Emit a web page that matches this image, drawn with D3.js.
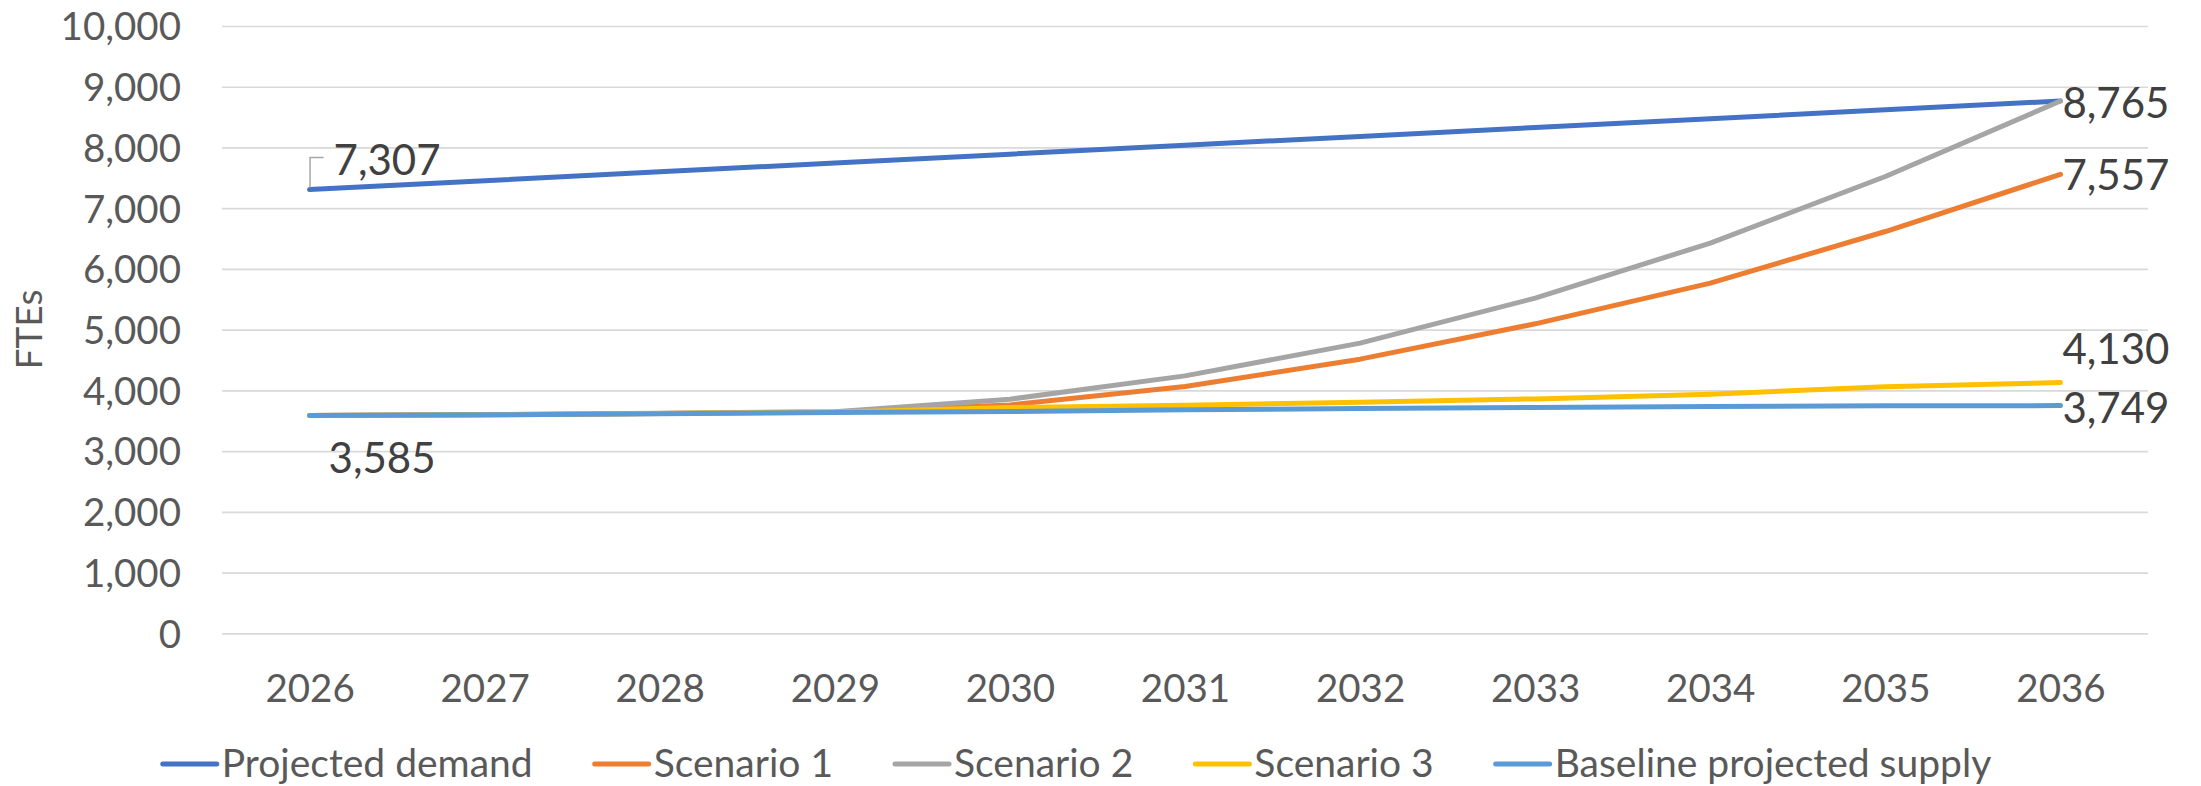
<!DOCTYPE html>
<html>
<head>
<meta charset="utf-8">
<script src="https://cdn.jsdelivr.net/npm/d3@7"></script>
<style>
  html, body { margin: 0; padding: 0; background: #ffffff; }
  svg { display: block; }
  text { font-family: "Lato", "Liberation Sans", sans-serif; }
</style>
</head>
<body>
<svg id="chart" width="2201" height="786"></svg>
<script>
// ---------- data ----------
const years = ["2026","2027","2028","2029","2030","2031","2032","2033","2034","2035","2036"];
const projectedDemand = [7307, 7453, 7599, 7744, 7890, 8036, 8182, 8328, 8473, 8619, 8765];
const scenario1 = [3585, 3598, 3620, 3645, 3761, 4063, 4514, 5096, 5766, 6616, 7557];
const scenario2 = [3585, 3600, 3622, 3650, 3855, 4239, 4778, 5519, 6425, 7522, 8765];
const scenario3 = [3585, 3597, 3618, 3640, 3717, 3756, 3805, 3860, 3937, 4060, 4130];
const baselineSupply = [3585, 3597, 3615, 3634, 3651, 3679, 3700, 3720, 3733, 3748, 3749];
const seriesNames = ["Projected demand", "Scenario 1", "Scenario 2", "Scenario 3", "Baseline projected supply"];
const yTicks = [0, 1000, 2000, 3000, 4000, 5000, 6000, 7000, 8000, 9000, 10000];
const yAxisTitle = "FTEs";

// ---------- styling / layout ----------
const colors = ["#4472C4", "#ED7D31", "#A5A5A5", "#FFC000", "#5B9BD5"];
const seriesValues = [projectedDemand, scenario1, scenario2, scenario3, baselineSupply];
const margin = { left: 222, right: 2201 - 2148, top: 26, bottom: 786 - 633.3 };
const W = 2201, H = 786;

const svg = d3.select("#chart");

const x = d3.scalePoint().domain(years).range([margin.left, W - margin.right]).padding(0.5);
const y = d3.scaleLinear().domain([0, 10000]).range([H - margin.bottom, margin.top]);
const fmt = d3.format(",");

// gridlines + y labels
const yAxis = d3.axisLeft(y)
  .tickValues(yTicks)
  .tickFormat(fmt)
  .tickSize(-(W - margin.left - margin.right))
  .tickPadding(41);
const gy = svg.append("g").attr("transform", `translate(${margin.left},0)`).call(yAxis);
gy.select(".domain").remove();
gy.selectAll(".tick line").attr("stroke", "#D9D9D9").attr("stroke-width", 1.7);
gy.selectAll(".tick text")
  .attr("fill", "#595959")
  .attr("font-size", 38.5)
  .attr("dy", "0.36em");

// x labels
const xAxis = d3.axisBottom(x).tickSize(0).tickPadding(0);
const gx = svg.append("g").attr("transform", `translate(0,${y(0)})`).call(xAxis);
gx.select(".domain").remove();
gx.selectAll(".tick text")
  .attr("fill", "#595959")
  .attr("font-size", 38.5)
  .attr("y", 69)
  .attr("dy", 0);

// y axis title
svg.append("text")
  .attr("transform", "translate(42,329.5) rotate(-90)")
  .attr("text-anchor", "middle")
  .attr("fill", "#595959")
  .attr("font-size", 37)
  .text(yAxisTitle);

// lines
const line = d3.line()
  .x((d, i) => x(years[i]))
  .y(d => y(d));
seriesValues.forEach((vals, k) => {
  svg.append("path")
    .datum(vals)
    .attr("d", line)
    .attr("fill", "none")
    .attr("stroke", colors[k])
    .attr("stroke-width", 5)
    .attr("stroke-linejoin", "round")
    .attr("stroke-linecap", "round");
});

// data labels (series index, point index, offsets)
const labelSpecs = [
  { s: 0, i: 0, dx: 24, dy: -15 },
  { s: 0, i: 10, dx: 2, dy: 17 },
  { s: 1, i: 10, dx: 2, dy: 16 },
  { s: 3, i: 10, dx: 2, dy: -18 },
  { s: 4, i: 10, dx: 2, dy: 17 },
  { s: 4, i: 0, dx: 19, dy: 57 }
];
labelSpecs.forEach(l => {
  const v = seriesValues[l.s][l.i];
  svg.append("text")
    .attr("x", x(years[l.i]) + l.dx)
    .attr("y", y(v) + l.dy)
    .attr("fill", "#404040")
    .attr("font-size", 42)
    .text(fmt(v));
});
// leader line for first demand label
{
  const px = x(years[0]), py = y(projectedDemand[0]);
  svg.append("path")
    .attr("d", `M${px + 0.5},${py - 2} L${px + 0.5},${py - 32} L${px + 14},${py - 32}`)
    .attr("fill", "none")
    .attr("stroke", "#A6A6A6")
    .attr("stroke-width", 1.5);
}

// legend
const legend = svg.append("g");
const lineLen = 54, gapText = 5, entryGap = 62, legendY = 764;
let cursor = 0;
const items = seriesNames.map((name, k) => {
  const g = legend.append("g");
  g.append("line")
    .attr("x1", 0).attr("x2", lineLen)
    .attr("y1", 0).attr("y2", 0)
    .attr("stroke", colors[k])
    .attr("stroke-width", 5)
    .attr("stroke-linecap", "round");
  const t = g.append("text")
    .attr("x", lineLen + gapText)
    .attr("y", 13)
    .attr("fill", "#595959")
    .attr("font-size", 39)
    .text(name);
  const w = lineLen + gapText + t.node().getComputedTextLength();
  g.attr("transform", `translate(${cursor},0)`);
  cursor += w + entryGap;
  return g;
});
const totalW = cursor - entryGap;
legend.attr("transform", `translate(${1077 - totalW / 2},${legendY})`);
</script>
</body>
</html>
